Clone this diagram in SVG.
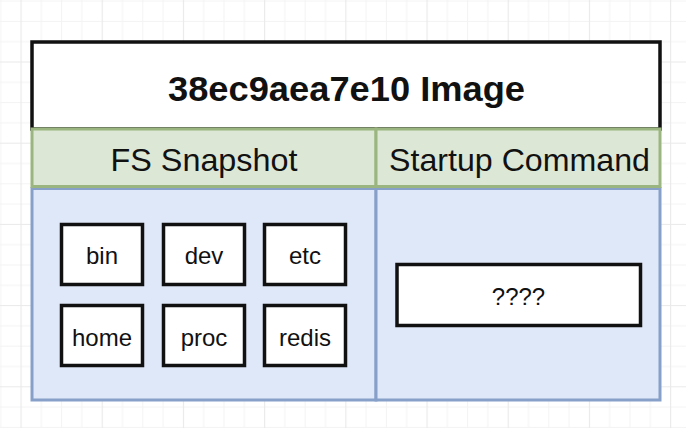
<svg xmlns="http://www.w3.org/2000/svg" width="686" height="428" viewBox="0 0 686 428">
  <style>
    .lbl { font-family: "Liberation Sans", Arial, sans-serif; fill: #111; text-anchor: middle; }
    .title { font-size: 35px; font-weight: bold; }
    .hdr { font-size: 32px; }
    .item { font-size: 24px; }
    .box { fill: #ffffff; stroke: #111; stroke-width: 3.5; }
    .green { fill: #dde7d6; stroke: #9ab57f; stroke-width: 3; }
    .blue { fill: #dfe8f8; stroke: #87a0c9; stroke-width: 3; }
    .gmin { stroke: #f3f3f3; stroke-width: 1; fill: none; }
    .gmaj { stroke: #e9e9e9; stroke-width: 1.2; fill: none; }
  </style>
  <defs>
    <pattern id="grid" patternUnits="userSpaceOnUse" x="20.5" y="61.5" width="81.2" height="81.2">
      <path class="gmin" d="M20.8 0V81.2M41.1 0V81.2M61.4 0V81.2M0 20.8H81.2M0 41.1H81.2M0 61.4H81.2"/>
      <path class="gmaj" d="M0.5 0V81.2M0 0.5H81.2"/>
    </pattern>
  </defs>
  <rect x="0" y="0" width="686" height="428" fill="#ffffff"/>
  <rect x="0" y="0" width="686" height="428" fill="url(#grid)"/>

  <g id="image">
    <rect x="32" y="42" width="628" height="87" fill="#ffffff" stroke="#111" stroke-width="3.5"/>
    <text class="lbl title" x="346.5" y="101" textLength="357" lengthAdjust="spacingAndGlyphs">38ec9aea7e10 Image</text>
  </g>

  <g id="fs-body">
    <rect class="blue" x="32" y="188.5" width="344" height="211.5"/>
  </g>
  <g id="cmd-body">
    <rect class="blue" x="376" y="188.5" width="284" height="211.5"/>
  </g>

  <g id="fs-header">
    <rect class="green" x="32" y="129" width="344" height="57.5"/>
    <text class="lbl hdr" x="204" y="170.5" textLength="187" lengthAdjust="spacingAndGlyphs">FS Snapshot</text>
  </g>
  <g id="cmd-header">
    <rect class="green" x="376" y="129" width="284" height="57.5"/>
    <text class="lbl hdr" x="519.5" y="170.5" textLength="261" lengthAdjust="spacingAndGlyphs">Startup Command</text>
  </g>

  <g id="bin">
    <rect class="box" x="61.5" y="224.5" width="81" height="60"/>
    <text class="lbl item" x="102" y="263.5">bin</text>
  </g>
  <g id="dev">
    <rect class="box" x="163.5" y="224.5" width="81" height="60"/>
    <text class="lbl item" x="204" y="263.5">dev</text>
  </g>
  <g id="etc">
    <rect class="box" x="264.5" y="224.5" width="81" height="60"/>
    <text class="lbl item" x="305" y="263.5">etc</text>
  </g>
  <g id="home">
    <rect class="box" x="61.5" y="305.5" width="81" height="60"/>
    <text class="lbl item" x="102" y="345.5">home</text>
  </g>
  <g id="proc">
    <rect class="box" x="163.5" y="305.5" width="81" height="60"/>
    <text class="lbl item" x="204" y="345.5">proc</text>
  </g>
  <g id="redis">
    <rect class="box" x="264.5" y="305.5" width="81" height="60"/>
    <text class="lbl item" x="305" y="345.5">redis</text>
  </g>
  <g id="command">
    <rect class="box" x="397" y="264.5" width="243.5" height="61"/>
    <text class="lbl item" x="518.5" y="304.5">????</text>
  </g>

  <g id="connectors"></g>
</svg>
